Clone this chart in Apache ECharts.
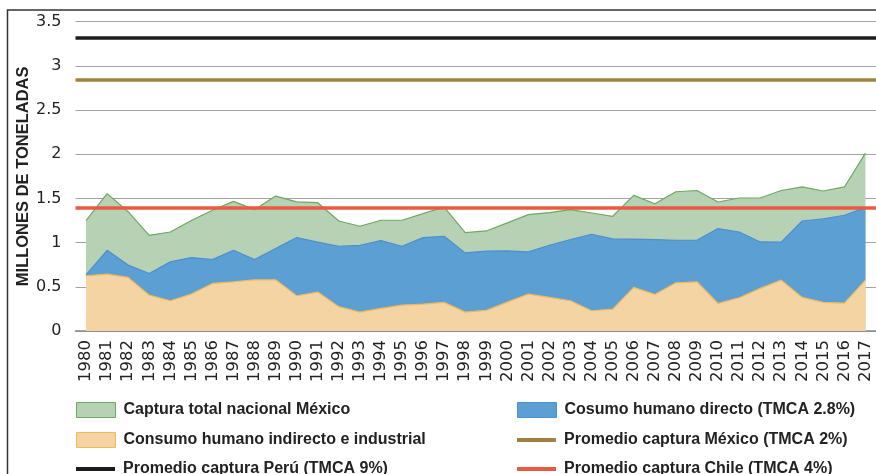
<!DOCTYPE html>
<html>
<head>
<meta charset="utf-8">
<script src="https://cdn.jsdelivr.net/npm/echarts@6/dist/echarts.min.js"></script>
<style>html,body{margin:0;padding:0;background:#fff}#c{width:876px;height:474px}</style>
</head>
<body>
<div id="c"></div>
<script>
const years = ['1980','1981','1982','1983','1984','1985','1986','1987','1988','1989','1990','1991','1992','1993','1994','1995','1996','1997','1998','1999','2000','2001','2002','2003','2004','2005','2006','2007','2008','2009','2010','2011','2012','2013','2014','2015','2016','2017'];
const capturaTotal = [1.25,1.555,1.35,1.083,1.12,1.25,1.366,1.467,1.373,1.527,1.462,1.452,1.245,1.185,1.253,1.253,1.328,1.403,1.114,1.132,1.223,1.317,1.34,1.373,1.335,1.298,1.535,1.44,1.576,1.59,1.46,1.505,1.505,1.59,1.63,1.584,1.63,2.013];
const consumoIndirecto = [0.625,0.643,0.606,0.406,0.342,0.418,0.538,0.557,0.579,0.579,0.399,0.44,0.275,0.214,0.256,0.293,0.305,0.324,0.214,0.233,0.327,0.418,0.38,0.342,0.229,0.248,0.493,0.414,0.545,0.557,0.312,0.376,0.482,0.576,0.38,0.324,0.316,0.576];
const consumoDirecto = [0.01,0.27,0.14,0.245,0.44,0.413,0.27,0.357,0.23,0.354,0.658,0.565,0.684,0.756,0.767,0.666,0.752,0.748,0.67,0.67,0.579,0.477,0.59,0.693,0.866,0.794,0.547,0.621,0.482,0.47,0.847,0.744,0.526,0.429,0.865,0.946,0.994,0.82];
const promedioMexico = 2.84;
const promedioPeru = 3.32;
const promedioChile = 1.40;
const yTicks = {min: 0, max: 3.5, interval: 0.5};

const names = {
  total: 'Captura total nacional México',
  directo: 'Cosumo humano directo (TMCA 2.8%)',
  indirecto: 'Consumo humano indirecto e industrial',
  mex: 'Promedio captura México (TMCA 2%)',
  peru: 'Promedio captura Perú (TMCA 9%)',
  chile: 'Promedio captura Chile (TMCA 4%)'
};
const C = {
  totalFill: '#b6d1b3', totalLine: '#6fa862',
  dirFill: '#5b9fd3', dirLine: '#4a90d0',
  indFill: '#f3d4a2', indLine: '#f1b95c',
  mex: '#a2803f', peru: '#1c1c1c', chile: '#e95a43'
};
const font = 'Liberation Sans, Arial, sans-serif';

function avgLine(name, value, color) {
  return {
    name: name, type: 'line', data: [], symbol: 'none', silent: true,
    lineStyle: {color: color, width: 4}, itemStyle: {color: color},
    markLine: {
      silent: true, symbol: 'none', label: {show: false},
      lineStyle: {color: color, width: 3.5, type: 'solid'},
      data: [{yAxis: value}]
    }
  };
}

const legendText = {fontFamily: font, fontSize: 16, fontWeight: 'bold', color: '#222', padding: [0, 0, 0, 3]};
function areaLegend(name, left, top, fill, stroke) {
  return {
    left: left, top: top, itemWidth: 39, itemHeight: 15, textStyle: legendText,
    data: [{name: name, icon: 'rect', itemStyle: {color: fill, borderColor: stroke, borderWidth: 1}}]
  };
}
function lineLegend(name, left, top, color) {
  return {
    left: left, top: top, itemWidth: 39, itemHeight: 4, textStyle: legendText,
    data: [{name: name, icon: 'rect', itemStyle: {color: color, borderWidth: 0}}]
  };
}

const chart = echarts.init(document.getElementById('c'));
chart.setOption({
  animation: false,
  backgroundColor: '#fff',
  graphic: [{
    type: 'rect', shape: {x: 7.5, y: 10, width: 900, height: 500},
    style: {fill: 'none', stroke: '#333', lineWidth: 1.5}, silent: true, z: 100
  }],
  grid: {left: 75.5, top: 21.7, width: 802.5, bottom: 143},
  legend: [
    areaLegend(names.total, 71, 397, C.totalFill, C.totalLine),
    areaLegend(names.indirecto, 71, 427, C.indFill, C.indLine),
    lineLegend(names.peru, 71, 456, C.peru),
    areaLegend(names.directo, 512, 397, C.dirFill, C.dirLine),
    lineLegend(names.mex, 512, 427, C.mex),
    lineLegend(names.chile, 512, 456, C.chile)
  ],
  xAxis: {
    type: 'category', data: years, boundaryGap: true,
    axisLine: {show: true, lineStyle: {color: '#888', width: 1.5}},
    axisTick: {show: false},
    axisLabel: {rotate: 90, interval: 0, margin: 9, fontFamily: 'DejaVu Sans, sans-serif', fontSize: 16.5, color: '#222'}
  },
  yAxis: {
    type: 'value', min: yTicks.min, max: yTicks.max, interval: yTicks.interval,
    name: 'MILLONES DE TONELADAS', nameLocation: 'middle', nameGap: 44, nameMoveOverlap: false,
    nameTextStyle: {fontFamily: font, fontSize: 16.5, fontWeight: 'bold', color: '#222'},
    axisLine: {show: false}, axisTick: {show: false},
    axisLabel: {margin: 14, fontFamily: 'DejaVu Sans, sans-serif', fontSize: 16, color: '#222'},
    splitLine: {lineStyle: {color: '#a3a3a3', width: 1.2}}
  },
  series: [
    {
      name: names.total, type: 'line', data: capturaTotal, symbol: 'none', z: 1,
      lineStyle: {color: C.totalLine, width: 1.2}, itemStyle: {color: C.totalFill},
      areaStyle: {color: C.totalFill, opacity: 1}
    },
    {
      name: names.indirecto, type: 'line', stack: 'consumo', data: consumoIndirecto, symbol: 'none', z: 2,
      lineStyle: {color: C.indLine, width: 1.2}, itemStyle: {color: C.indFill},
      areaStyle: {color: C.indFill, opacity: 1}
    },
    {
      name: names.directo, type: 'line', stack: 'consumo', data: consumoDirecto, symbol: 'none', z: 2,
      lineStyle: {color: C.dirLine, width: 1.2}, itemStyle: {color: C.dirFill},
      areaStyle: {color: C.dirFill, opacity: 1}
    },
    avgLine(names.mex, promedioMexico, C.mex),
    avgLine(names.peru, promedioPeru, C.peru),
    avgLine(names.chile, promedioChile, C.chile)
  ]
});
</script>
</body>
</html>
